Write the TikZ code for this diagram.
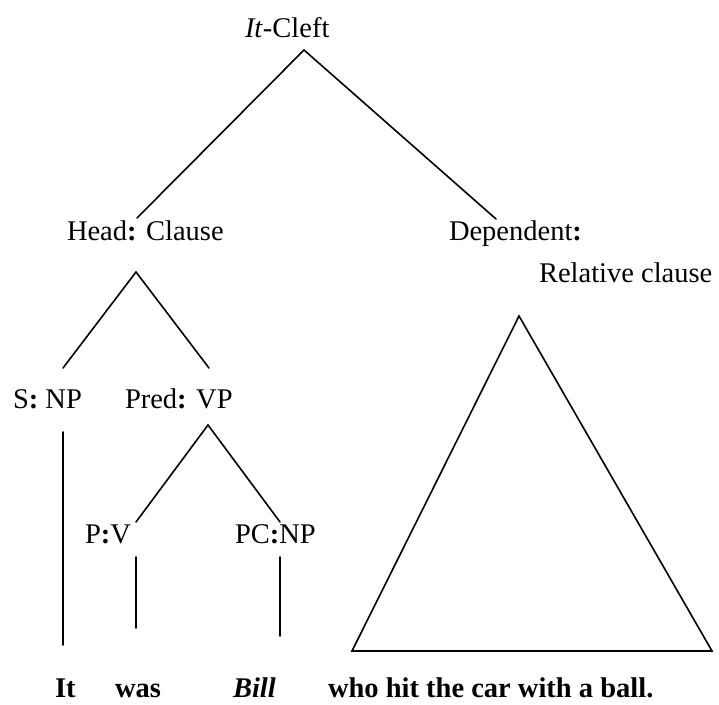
\documentclass[tikz,border=0pt]{standalone}
\usepackage{fontspec}
\setmainfont{Liberation Serif}
\begin{document}
\begin{tikzpicture}[x=1pt,y=-1pt,
  lbl/.style={anchor=base west,inner sep=0pt,outer sep=0pt,
    font=\fontsize{28.5}{34}\selectfont},
  word/.style={lbl,font=\fontsize{28.5}{34}\selectfont\bfseries},
  branch/.style={line width=1.6pt,line cap=round,line join=miter}]
\useasboundingbox (0,0) rectangle (719,704);

% category labels
\node[lbl] (cleft) at (245,37) {\textit{It}-Cleft};
\node[lbl] (head)  at (67,240) {Head\textbf{:} Clause};
\node[lbl] (dep)   at (449,240) {Dependent\textbf{:}};
\node[lbl] (rel)   at (539,282) {Relative clause};
\node[lbl] (subj)  at (13,408) {S\textbf{:} NP};
\node[lbl] (pred)  at (125,408) {Pred\textbf{:} VP};
\node[lbl] (pv)    at (85,543) {P\textbf{:}V};
\node[lbl] (pc)    at (235,543) {PC\textbf{:}NP};

% the sentence
\node[word] (wIt)   at (55,697) {It};
\node[word] (wWas)  at (115,697) {was};
\node[word] (wBill) at (233,697) {\textit{Bill}};
\node[word] (wRest) at (328,697) {who hit the car with a ball.};

% branch points
\coordinate (cleftTip) at (304,50);
\coordinate (headTop)  at (137,218);
\coordinate (depTop)   at (496,219);
\coordinate (headTip)  at (136,272);
\coordinate (subjTop)  at (63,368);
\coordinate (predTop)  at (209,368);
\coordinate (predTip)  at (208,425);
\coordinate (pvTop)    at (136,522);
\coordinate (pcTop)    at (280,522);
\coordinate (subjBot)  at (63,432);
\coordinate (subjEnd)  at (63,645);
\coordinate (pvBot)    at (136,557);
\coordinate (pvEnd)    at (136,628);
\coordinate (pcBot)    at (280,557);
\coordinate (pcEnd)    at (280,636);
\coordinate (relTip)   at (519,316);
\coordinate (relLeft)  at (352,651);
\coordinate (relRight) at (712,651);

% branches
\draw[branch] (headTop) -- (cleftTip) -- (depTop);
\draw[branch] (subjTop) -- (headTip) -- (predTop);
\draw[branch] (pvTop) -- (predTip) -- (pcTop);
\draw[branch] (subjBot) -- (subjEnd);
\draw[branch] (pvBot) -- (pvEnd);
\draw[branch] (pcBot) -- (pcEnd);
\draw[branch] (relTip) -- (relLeft) -- (relRight) -- cycle;
\end{tikzpicture}
\end{document}
